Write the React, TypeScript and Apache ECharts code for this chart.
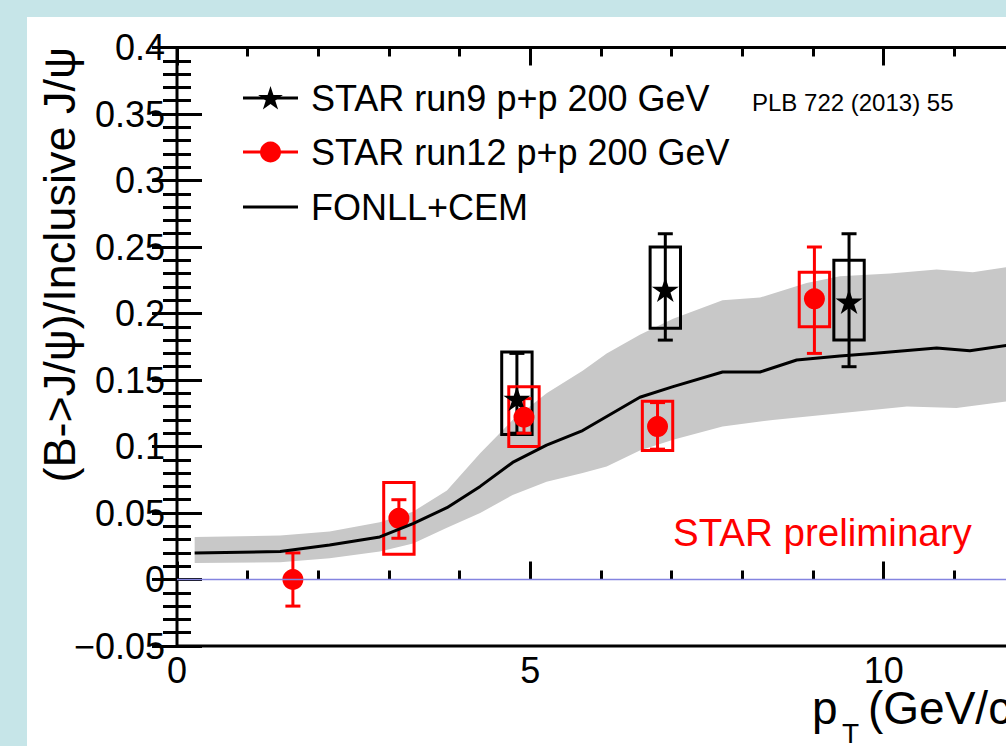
import React, { useEffect, useRef } from "react";
import * as echarts from "echarts";

// ---- data ----
const run9X = [4.81, 6.91, 9.51];
const run9Y = [0.136, 0.218, 0.209];
const run9StatLo = [0.11, 0.18, 0.16];
const run9StatHi = [0.17, 0.26, 0.26];
const run9SysLo = [0.109, 0.189, 0.18];
const run9SysHi = [0.171, 0.25, 0.24];

const run12X = [1.64, 3.14, 4.91, 6.8, 9.02];
const run12Y = [0.0, 0.046, 0.122, 0.115, 0.211];
const run12StatLo = [-0.02, 0.031, 0.11, 0.098, 0.17];
const run12StatHi = [0.02, 0.06, 0.136, 0.133, 0.25];
const run12SysLo: (number | null)[] = [null, 0.019, 0.1, 0.097, 0.19];
const run12SysHi: (number | null)[] = [null, 0.073, 0.145, 0.134, 0.231];

const fonllX = [0.25, 1.46, 2.16, 2.87, 3.34, 3.82, 4.29, 4.75, 5.23, 5.74, 6.55, 7.02, 7.72, 8.25, 8.77, 9.38, 9.84, 10.75, 11.22, 11.75];
const fonllY = [0.02, 0.021, 0.026, 0.032, 0.042, 0.054, 0.07, 0.088, 0.101, 0.112, 0.137, 0.145, 0.156, 0.156, 0.165, 0.168, 0.17, 0.174, 0.172, 0.176];

const bandUpX = [0.25, 1.46, 2.16, 2.87, 3.34, 3.82, 4.29, 4.75, 5.23, 5.74, 6.08, 6.55, 7.02, 7.72, 8.25, 8.91, 9.38, 10.09, 10.75, 11.26, 11.75];
const bandUpY = [0.032, 0.033, 0.036, 0.043, 0.051, 0.067, 0.095, 0.12, 0.14, 0.157, 0.17, 0.184, 0.196, 0.21, 0.212, 0.223, 0.228, 0.23, 0.233, 0.231, 0.235];
const bandLoX = [0.25, 1.46, 2.16, 2.87, 3.34, 3.82, 4.29, 4.75, 5.23, 5.74, 6.08, 6.55, 7.02, 7.72, 8.43, 9.38, 10.33, 11.03, 11.75];
const bandLoY = [0.0125, 0.013, 0.016, 0.021, 0.027, 0.039, 0.05, 0.0635, 0.0735, 0.08, 0.085, 0.097, 0.105, 0.115, 0.12, 0.125, 0.13, 0.129, 0.134];

const legendLabels = ["STAR run9 p+p 200 GeV", "STAR run12 p+p 200 GeV", "FONLL+CEM"];

// ---- style constants ----
const FONT = "'Liberation Sans', Arial, Helvetica, sans-serif";
const RED = "#ff0000";
const BLACK = "#000000";
const BOX_HALF = 0.215; // half width of systematic boxes (x units)
const CAP = 7.5; // half width of error caps (px)
const STAR_PATH =
  "path://M0,-10 L2.245,-3.09 L9.51,-3.09 L3.633,1.18 L5.88,8.09 L0,3.82 L-5.88,8.09 L-3.633,1.18 L-9.51,-3.09 L-2.245,-3.09 Z";

function starPoints(cx: number, cy: number, R: number) {
  const pts: number[][] = [];
  const r = R * 0.382;
  for (let i = 0; i < 10; i++) {
    const a = -Math.PI / 2 + (i * Math.PI) / 5;
    const rad = i % 2 === 0 ? R : r;
    pts.push([cx + rad * Math.cos(a), cy + rad * Math.sin(a)]);
  }
  return pts;
}

function errSeries(name: string, xs: number[], lo: number[], hi: number[], color: string) {
  return {
    type: "custom",
    name,
    clip: true,
    data: xs.map((x, i) => [x, lo[i], hi[i]]),
    encode: { x: 0, y: [1, 2] },
    renderItem: (_p: any, api: any) => {
      const x = api.value(0);
      const t = api.coord([x, api.value(2)]);
      const b = api.coord([x, api.value(1)]);
      const style = { stroke: color, lineWidth: 3, fill: "none" };
      return {
        type: "group",
        children: [
          { type: "line", shape: { x1: t[0], y1: t[1], x2: b[0], y2: b[1] }, style },
          { type: "line", shape: { x1: t[0] - CAP, y1: t[1], x2: t[0] + CAP, y2: t[1] }, style },
          { type: "line", shape: { x1: b[0] - CAP, y1: b[1], x2: b[0] + CAP, y2: b[1] }, style },
        ],
      };
    },
  };
}

function boxSeries(name: string, xs: number[], lo: (number | null)[], hi: (number | null)[], color: string) {
  const data: number[][] = [];
  xs.forEach((x, i) => {
    if (lo[i] != null && hi[i] != null) data.push([x, lo[i] as number, hi[i] as number]);
  });
  return {
    type: "custom",
    name,
    clip: true,
    data,
    encode: { x: 0, y: [1, 2] },
    renderItem: (_p: any, api: any) => {
      const x = api.value(0);
      const p1 = api.coord([x - BOX_HALF, api.value(2)]);
      const p2 = api.coord([x + BOX_HALF, api.value(1)]);
      return {
        type: "rect",
        shape: { x: p1[0], y: p1[1], width: p2[0] - p1[0], height: p2[1] - p1[1] },
        style: { stroke: color, lineWidth: 3, fill: "none" },
      };
    },
  };
}

export default function App() {
  const ref = useRef<HTMLDivElement>(null);

  useEffect(() => {
    if (!ref.current) return;
    const chart = echarts.init(ref.current, undefined, { renderer: "svg" });

    const tickLine = { color: BLACK, width: 3 };
    const xBase = { type: "value", min: 0, max: 12, axisLine: { show: false }, splitLine: { show: false } };
    const yBase = { type: "value", min: -0.05, max: 0.4, interval: 0.05, axisLine: { show: false }, splitLine: { show: false } };

    const upper = bandUpX.map((x, i) => [x, bandUpY[i]]);
    const lower = bandLoX.map((x, i) => [x, bandLoY[i]]);

    const legendY = [81, 135, 190];

    const option: any = {
      animation: false,
      grid: {
        left: 150,
        top: 30.5,
        width: 848,
        height: 598.5,
        outerBoundsMode: "none",
        containLabel: false,
        show: true,
        borderColor: BLACK,
        borderWidth: 3,
        backgroundColor: "transparent",
      },
      xAxis: [
        {
          ...xBase,
          position: "bottom",
          interval: 5,
          axisTick: { show: true, inside: true, length: 18, lineStyle: tickLine },
          axisLabel: { show: true, fontSize: 36, color: BLACK, fontFamily: FONT, margin: 6, showMaxLabel: false },
        },
        {
          ...xBase,
          position: "bottom",
          interval: 1,
          axisTick: { show: true, inside: true, length: 9, lineStyle: tickLine },
          axisLabel: { show: false },
        },
        {
          ...xBase,
          position: "top",
          interval: 5,
          axisTick: { show: true, inside: true, length: 18, lineStyle: tickLine },
          axisLabel: { show: false },
        },
        {
          ...xBase,
          position: "top",
          interval: 1,
          axisTick: { show: true, inside: true, length: 9, lineStyle: tickLine },
          axisLabel: { show: false },
        },
      ],
      yAxis: [
        {
          ...yBase,
          position: "left",
          axisTick: { show: true, inside: true, length: 25, lineStyle: tickLine },
          minorTick: { show: true, splitNumber: 5, length: 14, lineStyle: tickLine },
          axisLabel: {
            show: true,
            fontSize: 36,
            color: BLACK,
            fontFamily: FONT,
            margin: 12,
            formatter: (v: number) => String(+v.toFixed(2)).replace("-", "\u2212"),
          },
        },
        {
          ...yBase,
          position: "right",
          axisTick: { show: true, inside: true, length: 25, lineStyle: tickLine },
          minorTick: { show: true, splitNumber: 5, length: 14, lineStyle: tickLine },
          axisLabel: { show: false },
        },
      ],
      series: [
        {
          type: "custom",
          name: "FONLL+CEM band",
          clip: true,
          silent: true,
          data: [[0, 0]],
          encode: { x: 0, y: 1 },
          renderItem: (_p: any, api: any) => {
            const pts = upper.map((p) => api.coord(p)).concat(lower.slice().reverse().map((p) => api.coord(p)));
            return { type: "polygon", shape: { points: pts }, style: { fill: "#c8c8c8" } };
          },
        },
        {
          type: "line",
          name: "FONLL+CEM",
          data: fonllX.map((x, i) => [x, fonllY[i]]),
          symbol: "none",
          lineStyle: { color: BLACK, width: 3 },
          silent: true,
        },
        {
          type: "line",
          name: "zero",
          data: [
            [0, 0],
            [12, 0],
          ],
          symbol: "none",
          lineStyle: { color: "#8484e0", width: 1.5 },
          silent: true,
        },
        boxSeries("run9 sys", run9X, run9SysLo, run9SysHi, BLACK),
        errSeries("run9 stat", run9X, run9StatLo, run9StatHi, BLACK),
        {
          type: "scatter",
          name: "STAR run9 p+p 200 GeV",
          data: run9X.map((x, i) => [x, run9Y[i]]),
          symbol: STAR_PATH,
          symbolKeepAspect: true,
          symbolSize: [27, 26],
          itemStyle: { color: BLACK, opacity: 1 },
        },
        boxSeries("run12 sys", run12X, run12SysLo, run12SysHi, RED),
        errSeries("run12 stat", run12X, run12StatLo, run12StatHi, RED),
        {
          type: "scatter",
          name: "STAR run12 p+p 200 GeV",
          data: run12X.map((x, i) => [x, run12Y[i]]),
          symbol: "circle",
          symbolSize: 21,
          itemStyle: { color: RED, opacity: 1 },
        },
      ],
      graphic: [
        // legend
        { type: "line", shape: { x1: 216, y1: legendY[0], x2: 271, y2: legendY[0] }, style: { stroke: BLACK, lineWidth: 3 } },
        { type: "polygon", shape: { points: starPoints(243.5, legendY[0] + 1, 13) }, style: { fill: BLACK } },
        { type: "line", shape: { x1: 216, y1: legendY[1], x2: 271, y2: legendY[1] }, style: { stroke: RED, lineWidth: 3 } },
        { type: "circle", shape: { cx: 243.5, cy: legendY[1], r: 10.5 }, style: { fill: RED } },
        { type: "line", shape: { x1: 216, y1: legendY[2], x2: 271, y2: legendY[2] }, style: { stroke: BLACK, lineWidth: 3 } },
        ...legendLabels.map((t, i) => ({
          type: "text",
          x: 284,
          y: legendY[i],
          style: { text: t, fontSize: 36, fontFamily: FONT, fill: BLACK, align: "left", verticalAlign: "middle" },
        })),
        {
          type: "text",
          x: 725,
          y: 85,
          style: { text: "PLB 722 (2013) 55", fontSize: 24, fontFamily: FONT, fill: BLACK, align: "left", verticalAlign: "middle" },
        },
        {
          type: "text",
          x: 646,
          y: 515,
          style: { text: "STAR preliminary", fontSize: 38.5, fontFamily: FONT, fill: RED, align: "left", verticalAlign: "middle" },
        },
        // y axis title
        {
          type: "text",
          x: 32,
          y: 30,
          rotation: Math.PI / 2,
          style: { text: "(B->J/\u03c8)/Inclusive J/\u03c8", fontSize: 45, fontFamily: FONT, fill: BLACK, align: "right", verticalAlign: "middle" },
        },
        // x axis title
        { type: "text", x: 785, y: 691, style: { text: "p", fontSize: 46, fontFamily: FONT, fill: BLACK, align: "left", verticalAlign: "middle" } },
        { type: "text", x: 815, y: 716, style: { text: "T", fontSize: 28, fontFamily: FONT, fill: BLACK, align: "left", verticalAlign: "middle" } },
        { type: "text", x: 841, y: 691, style: { text: "(GeV/c)", fontSize: 46, fontFamily: FONT, fill: BLACK, align: "left", verticalAlign: "middle" } },
      ],
    };

    chart.setOption(option);
    return () => chart.dispose();
  }, []);

  return (
    <div style={{ position: "fixed", left: 0, top: 0, width: 1006, height: 746, background: "#c6e5e8", overflow: "hidden" }}>
      <div ref={ref} style={{ position: "absolute", left: 27, top: 17, width: 979, height: 729, background: "#ffffff" }} />
    </div>
  );
}
